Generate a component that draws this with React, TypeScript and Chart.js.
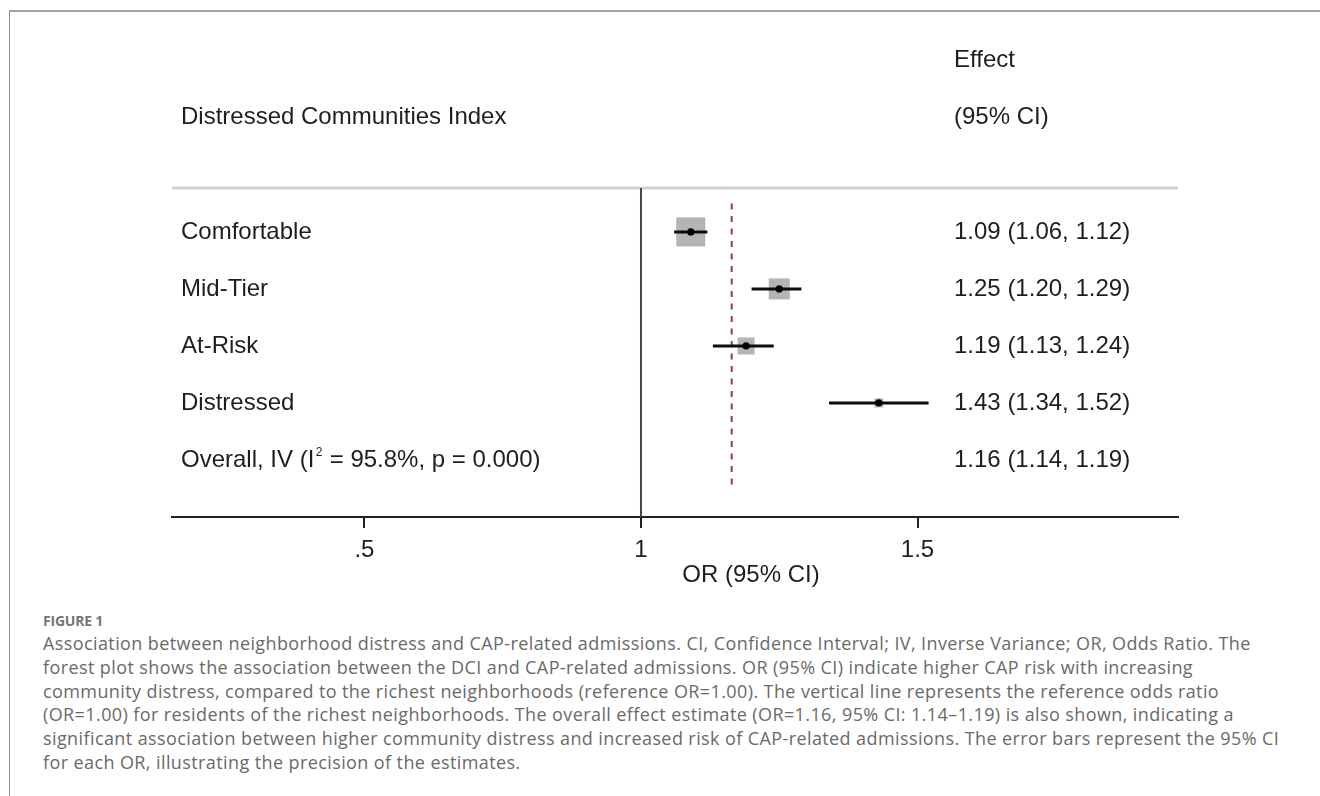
import React, { useEffect, useRef } from 'react';
import { Chart, registerables } from 'chart.js';

Chart.register(...registerables);

// ---- data ----
const categories = ['Comfortable', 'Mid-Tier', 'At-Risk', 'Distressed'];
const oddsRatios = [1.09, 1.25, 1.19, 1.43];
const ciLower = [1.06, 1.2, 1.13, 1.34];
const ciUpper = [1.12, 1.29, 1.24, 1.52];
const weights = [50.9, 26.7, 17.5, 4.9];
const overallOR = 1.164;
const overallLower = 1.14;
const overallUpper = 1.19;
const overallI2 = '95.8%';
const overallP = '0.000';
const referenceOR = 1;
const tickValues = [0.5, 1, 1.5];
const tickLabels = ['.5', '1', '1.5'];
const headerLeft = 'Distressed Communities Index';
const headerRight = ['Effect', '(95% CI)'];
const axisTitle = 'OR (95% CI)';

const captionTitle = 'FIGURE 1';
const captionLines = [
  'Association between neighborhood distress and CAP-related admissions. CI, Confidence Interval; IV, Inverse Variance; OR, Odds Ratio. The',
  'forest plot shows the association between the DCI and CAP-related admissions. OR (95% CI) indicate higher CAP risk with increasing',
  'community distress, compared to the richest neighborhoods (reference OR=1.00). The vertical line represents the reference odds ratio',
  '(OR=1.00) for residents of the richest neighborhoods. The overall effect estimate (OR=1.16, 95% CI: 1.14\u20131.19) is also shown, indicating a',
  'significant association between higher community distress and increased risk of CAP-related admissions. The error bars represent the 95% CI',
  'for each OR, illustrating the precision of the estimates.',
];

// ---- layout / style constants ----
const FONT = '"Liberation Sans", Arial, sans-serif';
const TEXT_COLOR = '#1e1e1e';
const LABEL_X = 181;
const EFFECT_X = 954;
const AXIS_TITLE_X = 751;
const AXIS_TITLE_Y = 575;
const BOX_SCALE = 2.875;
const fmt = (v: number) => v.toFixed(2);

const forestPlugin = {
  id: 'forestDecor',
  beforeDatasetsDraw(chart: any) {
    const { ctx, chartArea, scales } = chart;
    const x = scales.x;
    ctx.save();
    ctx.strokeStyle = '#d2d2d2';
    ctx.lineWidth = 3;
    ctx.beginPath();
    ctx.moveTo(chartArea.left, chartArea.top);
    ctx.lineTo(chartArea.right, chartArea.top);
    ctx.stroke();
    const rx = x.getPixelForValue(referenceOR);
    ctx.strokeStyle = '#474747';
    ctx.lineWidth = 2;
    ctx.beginPath();
    ctx.moveTo(rx, chartArea.top);
    ctx.lineTo(rx, chartArea.bottom);
    ctx.stroke();
    ctx.restore();
  },
  afterDraw(chart: any) {
    const { ctx, scales } = chart;
    const y = scales.y;
    ctx.save();
    ctx.fillStyle = TEXT_COLOR;
    ctx.textBaseline = 'middle';
    ctx.textAlign = 'left';
    ctx.font = `24px ${FONT}`;
    // headers
    ctx.fillText(headerRight[0], EFFECT_X, y.getPixelForValue(-3));
    ctx.fillText(headerRight[1], EFFECT_X, y.getPixelForValue(-2));
    ctx.fillText(headerLeft, LABEL_X, y.getPixelForValue(-2));
    // rows
    categories.forEach((c, i) => {
      const py = y.getPixelForValue(i);
      ctx.fillText(c, LABEL_X, py);
      ctx.fillText(`${fmt(oddsRatios[i])} (${fmt(ciLower[i])}, ${fmt(ciUpper[i])})`, EFFECT_X, py);
    });
    // overall row
    const oy = y.getPixelForValue(categories.length);
    const p1 = 'Overall, IV (I';
    const p3 = ` = ${overallI2}, p = ${overallP})`;
    ctx.fillText(p1, LABEL_X, oy);
    const w1 = ctx.measureText(p1).width;
    ctx.font = `12px ${FONT}`;
    ctx.fillText('2', LABEL_X + w1 + 1.5, oy - 7);
    const w2 = ctx.measureText('2').width;
    ctx.font = `24px ${FONT}`;
    ctx.fillText(p3, LABEL_X + w1 + w2 + 2, oy);
    ctx.fillText(`${fmt(overallOR)} (${fmt(overallLower)}, ${fmt(overallUpper)})`, EFFECT_X, oy);
    // axis title
    ctx.textAlign = 'center';
    ctx.fillText(axisTitle, AXIS_TITLE_X, AXIS_TITLE_Y);
    ctx.restore();
  },
};

function ForestChart() {
  const ref = useRef<HTMLCanvasElement | null>(null);
  useEffect(() => {
    if (!ref.current) return;
    const whiskerData: { x: number; y: number }[] = [];
    categories.forEach((_, i) => {
      whiskerData.push({ x: ciLower[i], y: i });
      whiskerData.push({ x: ciUpper[i], y: i });
      whiskerData.push({ x: NaN, y: NaN });
    });
    const chart = new Chart(ref.current, {
      type: 'scatter',
      data: {
        datasets: [
          {
            label: 'OR',
            data: oddsRatios.map((v, i) => ({ x: v, y: i })),
            pointStyle: 'circle',
            pointRadius: 3.6,
            backgroundColor: '#000',
            borderWidth: 0,
          },
          {
            label: '95% CI',
            data: whiskerData,
            showLine: true,
            spanGaps: false,
            borderColor: '#0d0d0d',
            borderWidth: 3,
            pointRadius: 0,
          },
          {
            label: 'Weight',
            data: oddsRatios.map((v, i) => ({ x: v, y: i })),
            pointStyle: 'rect',
            pointRadius: weights.map((w) => BOX_SCALE * Math.sqrt(w)),
            backgroundColor: '#b4b4b4',
            borderWidth: 0,
          },
          {
            label: 'Overall',
            data: [
              { x: overallOR, y: -0.5 },
              { x: overallOR, y: categories.length + 0.5 },
            ],
            showLine: true,
            borderColor: '#8f3a5c',
            borderWidth: 2,
            borderDash: [6, 6.5],
            pointRadius: 0,
          },
        ],
      },
      options: {
        responsive: false,
        animation: false,
        events: [],
        layout: { padding: { left: 172, right: 142, top: 188, bottom: 0 } },
        plugins: { legend: { display: false }, tooltip: { enabled: false } },
        scales: {
          x: {
            type: 'linear',
            min: 0.152,
            max: 1.971,
            afterBuildTicks: (scale: any) => {
              scale.ticks = tickValues.map((v) => ({ value: v }));
            },
            afterFit: (scale: any) => {
              scale.height = 83;
            },
            ticks: {
              autoSkip: false,
              padding: 8,
              color: TEXT_COLOR,
              font: { family: FONT, size: 24 },
              callback: (v: any) => {
                const idx = tickValues.indexOf(Number(v));
                return idx >= 0 ? tickLabels[idx] : '';
              },
            },
            grid: {
              drawOnChartArea: false,
              drawTicks: true,
              tickLength: 11,
              color: '#222',
              lineWidth: 2,
              tickWidth: 2,
            },
            border: { display: true, color: '#222', width: 2 },
          },
          y: {
            type: 'linear',
            reverse: true,
            min: -0.77,
            max: 5,
            display: false,
          },
        },
      },
      plugins: [forestPlugin],
    });
    return () => chart.destroy();
  }, []);
  return (
    <canvas
      ref={ref}
      width={1320}
      height={600}
      style={{ position: 'absolute', left: 0, top: 0, width: 1320, height: 600 }}
    />
  );
}

export default function App() {
  return (
    <div
      style={{
        position: 'absolute',
        left: 0,
        top: 0,
        width: 1320,
        height: 796,
        overflow: 'hidden',
        background: '#fff',
      }}
    >
      <div
        style={{
          position: 'absolute',
          left: 9,
          top: 10,
          width: 1320,
          height: 800,
          borderTop: '2px solid #a3a3a3',
          borderLeft: '1px solid #8c8c8c',
        }}
      />
      <ForestChart />
      <div
        style={{
          position: 'absolute',
          left: 43,
          top: 612,
          fontFamily: '"Open Sans", sans-serif',
          fontWeight: 700,
          fontSize: 14,
          lineHeight: '18px',
          letterSpacing: '-0.2px',
          color: '#767676',
          whiteSpace: 'nowrap',
        }}
      >
        {captionTitle}
      </div>
      <div
        style={{
          position: 'absolute',
          left: 43,
          top: 632,
          fontFamily: '"Open Sans", sans-serif',
          fontSize: 18,
          lineHeight: '23.8px',
          letterSpacing: '0.4px',
          color: '#6a6a6a',
        }}
      >
        {captionLines.map((l, i) => (
          <div key={i} style={{ whiteSpace: 'nowrap' }}>
            {l}
          </div>
        ))}
      </div>
    </div>
  );
}
